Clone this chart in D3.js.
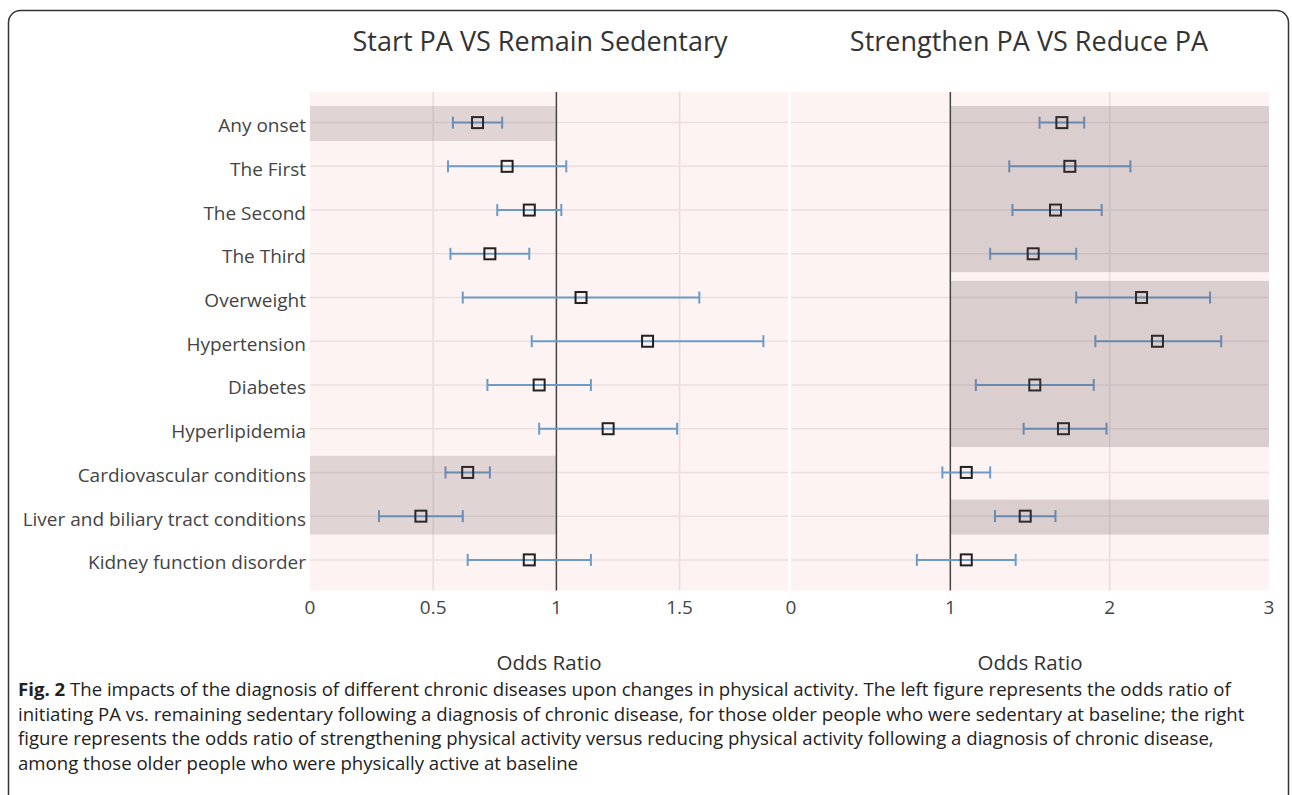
<!DOCTYPE html>
<html>
<head>
<meta charset="utf-8">
<script src="https://cdn.jsdelivr.net/npm/d3@7"></script>
<style>
  html, body { margin: 0; padding: 0; background: #fff; }
  svg { display: block; font-family: "Open Sans", "Noto Sans", sans-serif; }
</style>
</head>
<body>
<svg id="chart" width="1292" height="795"></svg>
<script>
// Outcome categories, top to bottom
const categories = [
  "Any onset", "The First", "The Second", "The Third", "Overweight",
  "Hypertension", "Diabetes", "Hyperlipidemia", "Cardiovascular conditions",
  "Liver and biliary tract conditions", "Kidney function disorder"
];

// Start PA vs remain sedentary: odds ratio with 95% CI
const startOR    = [0.68, 0.80, 0.89, 0.73, 1.10, 1.37, 0.93, 1.21, 0.64, 0.45, 0.89];
const startLower = [0.58, 0.56, 0.76, 0.57, 0.62, 0.90, 0.72, 0.93, 0.55, 0.28, 0.64];
const startUpper = [0.78, 1.04, 1.02, 0.89, 1.58, 1.84, 1.14, 1.49, 0.73, 0.62, 1.14];

// Strengthen PA vs reduce PA: odds ratio with 95% CI
const strengthOR    = [1.70, 1.75, 1.66, 1.52, 2.20, 2.30, 1.53, 1.71, 1.10, 1.47, 1.10];
const strengthLower = [1.56, 1.37, 1.39, 1.25, 1.79, 1.91, 1.16, 1.46, 0.95, 1.28, 0.79];
const strengthUpper = [1.84, 2.13, 1.95, 1.79, 2.63, 2.70, 1.90, 1.98, 1.25, 1.66, 1.41];

// Highlighted (significant) row blocks: [first row, last row]
const startBands    = [[0, 0], [8, 9]];
const strengthBands = [[0, 3], [4, 7], [9, 9]];

// Axis tick values
const startTicks    = [0, 0.5, 1, 1.5];
const strengthTicks = [0, 1, 2, 3];

const panelTitles = ["Start PA VS Remain Sedentary", "Strengthen PA VS Reduce PA"];
const axisTitle = "Odds Ratio";

const captionBold = "Fig. 2";
const captionLines = [
  " The impacts of the diagnosis of different chronic diseases upon changes in physical activity. The left figure represents the odds ratio of",
  "initiating PA vs. remaining sedentary following a diagnosis of chronic disease, for those older people who were sedentary at baseline; the right",
  "figure represents the odds ratio of strengthening physical activity versus reducing physical activity following a diagnosis of chronic disease,",
  "among those older people who were physically active at baseline"
];

const svg = d3.select("#chart");

// Frame around the figure
svg.append("rect")
  .attr("x", 8.5).attr("y", 10.5)
  .attr("width", 1280).attr("height", 820)
  .attr("rx", 12).attr("ry", 12)
  .attr("fill", "#fff")
  .attr("stroke", "#333").attr("stroke-width", 1.5);

const plotTop = 92, plotBottom = 590.5;
const y = d3.scaleLinear().domain([-0.7, categories.length - 1 + 0.7]).range([plotTop, plotBottom]);

const panels = [
  {
    x0: 310, x1: 788, domain: [0, 1.94], ticks: startTicks,
    or: startOR, lo: startLower, hi: startUpper, bands: startBands,
    title: panelTitles[0], titleX: 540, bandFrom: 0, bandTo: 1, shade: 0.18
  },
  {
    x0: 791, x1: 1269, domain: [0, 3], ticks: strengthTicks,
    or: strengthOR, lo: strengthLower, hi: strengthUpper, bands: strengthBands,
    title: panelTitles[1], titleX: 1029, bandFrom: 1, bandTo: 3, shade: 0.21
  }
];

panels.forEach(p => {
  const x = d3.scaleLinear().domain(p.domain).range([p.x0, p.x1]);
  const g = svg.append("g");

  // plot background
  g.append("rect")
    .attr("x", p.x0).attr("y", plotTop)
    .attr("width", p.x1 - p.x0).attr("height", plotBottom - plotTop)
    .attr("fill", "#fdf3f2");

  // vertical grid
  g.selectAll(".vgrid").data(p.ticks.filter(t => t !== 0 && t !== 1 && t < p.domain[1]))
    .join("line")
    .attr("x1", d => x(d)).attr("x2", d => x(d))
    .attr("y1", plotTop).attr("y2", plotBottom)
    .attr("stroke", "#eadcdc").attr("stroke-width", 1.5);

  // horizontal grid
  g.selectAll(".hgrid").data(categories)
    .join("line")
    .attr("x1", p.x0).attr("x2", p.x1)
    .attr("y1", (d, i) => y(i)).attr("y2", (d, i) => y(i))
    .attr("stroke", "#ecdfdf").attr("stroke-width", 1.5);

  // reference line at OR = 1
  g.append("line")
    .attr("x1", x(1)).attr("x2", x(1))
    .attr("y1", plotTop).attr("y2", plotBottom)
    .attr("stroke", "#444").attr("stroke-width", 1.5);

  // confidence intervals
  const idx = d3.range(categories.length);
  g.selectAll(".ci").data(idx).join("line")
    .attr("x1", i => x(p.lo[i])).attr("x2", i => x(p.hi[i]))
    .attr("y1", i => y(i)).attr("y2", i => y(i))
    .attr("stroke", "#6c9bc7").attr("stroke-width", 2);
  [p.lo, p.hi].forEach(arr => {
    g.selectAll(null).data(idx).join("line")
      .attr("x1", i => x(arr[i])).attr("x2", i => x(arr[i]))
      .attr("y1", i => y(i) - 6).attr("y2", i => y(i) + 6)
      .attr("stroke", "#6c9bc7").attr("stroke-width", 2);
  });

  // point estimates
  g.selectAll(".pt").data(idx).join("rect")
    .attr("x", i => x(p.or[i]) - 5.5).attr("y", i => y(i) - 5.5)
    .attr("width", 11).attr("height", 11)
    .attr("fill", "none").attr("stroke", "#222").attr("stroke-width", 2);

  // highlighted row blocks drawn over the marks
  g.selectAll(".band").data(p.bands).join("rect")
    .attr("x", x(p.bandFrom)).attr("width", x(Math.min(p.bandTo, p.domain[1])) - x(p.bandFrom))
    .attr("y", d => y(d[0] - 0.38)).attr("height", d => y(d[1] + 0.42) - y(d[0] - 0.38))
    .attr("fill", "#5e4650").attr("fill-opacity", p.shade);

  // tick labels
  g.selectAll(".tick").data(p.ticks).join("text")
    .attr("x", d => x(d)).attr("y", 614)
    .attr("text-anchor", "middle")
    .attr("font-size", 19).attr("fill", "#444")
    .text(d => d);

  // panel title
  g.append("text")
    .attr("x", p.titleX).attr("y", 51)
    .attr("text-anchor", "middle")
    .attr("font-size", 27).attr("fill", "#333")
    .text(p.title);

  // axis title
  g.append("text")
    .attr("x", (p.x0 + p.x1) / 2).attr("y", 670)
    .attr("text-anchor", "middle")
    .attr("font-size", 20.5).attr("fill", "#333")
    .text(axisTitle);
});

// row labels
svg.selectAll(".rowlab").data(categories).join("text")
  .attr("x", 306).attr("y", (d, i) => y(i))
  .attr("dy", "0.5em")
  .attr("text-anchor", "end")
  .attr("font-size", 19).attr("fill", "#444")
  .text(d => d);

// caption
const cap = svg.append("g").attr("font-size", 18.6).attr("fill", "#222");
captionLines.forEach((line, i) => {
  const t = cap.append("text").attr("x", 18).attr("y", 696 + i * 24.5);
  if (i === 0) t.append("tspan").attr("font-weight", "bold").text(captionBold);
  t.append("tspan").text(line);
});
</script>
</body>
</html>
